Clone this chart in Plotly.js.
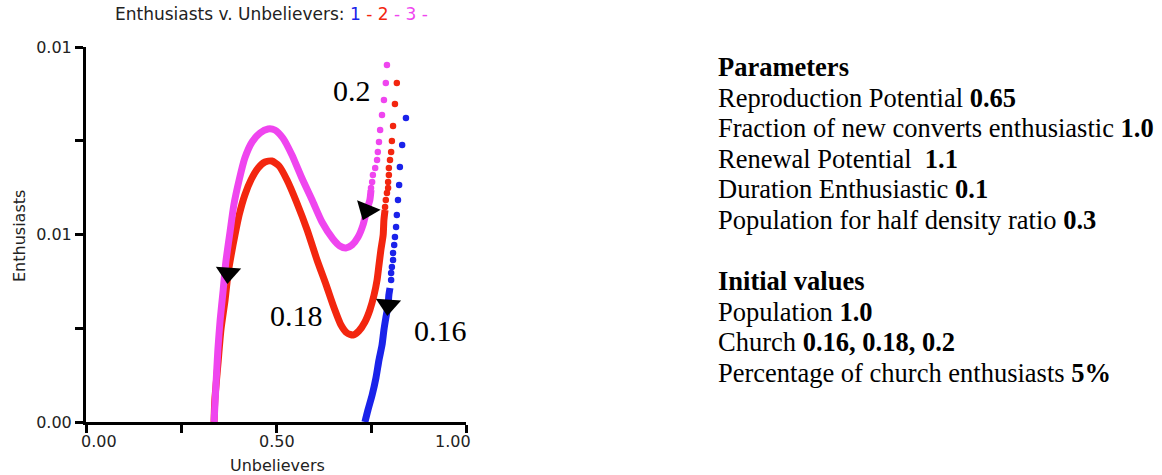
<!DOCTYPE html>
<html>
<head>
<meta charset="utf-8">
<script src="https://cdn.plot.ly/plotly-3.0.1.min.js"></script>
<style>
  html, body { margin: 0; padding: 0; background: #fff; }
  #chart { width: 1162px; height: 475px; }
</style>
</head>
<body>
<div id="chart"></div>
<script>
// ---------- data ----------
// Church 0.2 (series 3, magenta): sparse start dots, then dense trajectory
const magentaDotsX = [0.792, 0.789, 0.784, 0.779, 0.774, 0.771, 0.768, 0.766, 0.761, 0.755, 0.753, 0.750];
const magentaDotsY = [0.01428, 0.01356, 0.01288, 0.01228, 0.01168, 0.0112, 0.0108, 0.01048, 0.01016, 0.00988, 0.0096, 0.00936];
const magentaPathX = [0.750, 0.747, 0.739, 0.729, 0.716, 0.700, 0.684, 0.668, 0.650, 0.621, 0.595, 0.568, 0.542, 0.518, 0.497, 0.479, 0.458, 0.437, 0.418, 0.403, 0.389, 0.379, 0.368, 0.361, 0.353, 0.347, 0.342, 0.337];
const magentaPathY = [0.00928, 0.00888, 0.00848, 0.00788, 0.0074, 0.00708, 0.00696, 0.00704, 0.00732, 0.008, 0.00888, 0.00976, 0.01068, 0.01136, 0.01168, 0.01172, 0.01156, 0.0112, 0.01056, 0.00968, 0.00868, 0.0076, 0.0064, 0.00528, 0.00408, 0.00288, 0.00148, 0];

// Church 0.18 (series 2, red)
const redDotsX = [0.818, 0.813, 0.808, 0.805, 0.803, 0.800, 0.797, 0.797, 0.795, 0.795, 0.792, 0.789, 0.787];
const redDotsY = [0.01356, 0.01272, 0.01184, 0.01124, 0.0108, 0.01048, 0.01016, 0.00988, 0.0096, 0.00936, 0.00916, 0.00888, 0.0086];
const redPathX = [0.787, 0.784, 0.782, 0.776, 0.771, 0.766, 0.758, 0.747, 0.734, 0.718, 0.703, 0.687, 0.671, 0.653, 0.632, 0.608, 0.582, 0.555, 0.529, 0.508, 0.489, 0.471, 0.453, 0.434, 0.418, 0.403, 0.392, 0.382, 0.374, 0.366, 0.355, 0.347, 0.339, 0.337];
const redPathY = [0.00848, 0.00808, 0.00748, 0.00688, 0.00628, 0.00568, 0.00508, 0.00448, 0.004, 0.00364, 0.00348, 0.00356, 0.00388, 0.00456, 0.00548, 0.00648, 0.00768, 0.00876, 0.00968, 0.01024, 0.01044, 0.0104, 0.01016, 0.00968, 0.00908, 0.00828, 0.00748, 0.00668, 0.00596, 0.00488, 0.00368, 0.00228, 0.00088, 0];

// Church 0.16 (series 1, blue)
const blueDotsX = [0.842, 0.832, 0.826, 0.824, 0.821, 0.818, 0.816, 0.813, 0.811, 0.808, 0.808, 0.805, 0.803, 0.803];
const blueDotsY = [0.01216, 0.01108, 0.0102, 0.00948, 0.00888, 0.00828, 0.0078, 0.0074, 0.00708, 0.00676, 0.00648, 0.0062, 0.00596, 0.00568];
const bluePathX = [0.800, 0.797, 0.795, 0.789, 0.784, 0.779, 0.771, 0.763, 0.753, 0.742, 0.734];
const bluePathY = [0.00536, 0.00508, 0.00468, 0.00416, 0.00368, 0.00308, 0.00248, 0.00176, 0.00108, 0.00048, 0];

// ticks
const xTickVals = [0, 0.25, 0.5, 0.75, 1.0];
const xTickText = ['0.00', '', '0.50', '', '1.00'];
const yTickVals = [0, 0.00375, 0.0075, 0.01125, 0.015];
const yTickText = ['0.00', '', '0.01', '', '0.01'];

// text panel
const paramLines = [
  '<b>Parameters</b>',
  'Reproduction Potential <b>0.65</b>',
  'Fraction of new converts enthusiastic <b>1.0</b>',
  'Renewal Potential&nbsp; <b>1.1</b>',
  'Duration Enthusiastic <b>0.1</b>',
  'Population for half density ratio <b>0.3</b>',
  '',
  '<b>Initial values</b>',
  'Population <b>1.0</b>',
  'Church <b>0.16, 0.18, 0.2</b>',
  'Percentage of church enthusiasts <b>5%</b>'
];
const seriesLabels = ['0.16', '0.18', '0.2'];

// ---------- styling ----------
const BLUE = '#1a22ea', RED = '#f3260f', MAG = '#ef45ef';
const AX_FONT = 'DejaVu Sans, Verdana, sans-serif';
const SERIF = 'Liberation Serif, Times New Roman, serif';
const AX_SIZE = 16;

// plot-area pixel geometry
const L = 86, T = 47, W = 380, H = 375;
const px2paperX = px => (px - L) / W;
const py2paperY = py => (T + H - py) / H;

function pathTrace(x, y, color) {
  return { x, y, type: 'scatter', mode: 'lines', cliponaxis: false,
    line: { color, width: 7, shape: 'spline', smoothing: 0.6 }, hoverinfo: 'skip' };
}
function dotTrace(x, y, color) {
  return { x, y, type: 'scatter', mode: 'markers', cliponaxis: false,
    marker: { color, size: 6.5, line: { width: 0 } }, hoverinfo: 'skip' };
}

// direction arrows sit on the trajectories
const arrowX = [magentaPathX[2], redPathX[28], bluePathX[2]];
const arrowY = [magentaPathY[2], redPathY[28], bluePathY[2]];

const traces = [
  pathTrace(bluePathX, bluePathY, BLUE),
  dotTrace(blueDotsX, blueDotsY, BLUE),
  pathTrace(redPathX, redPathY, RED),
  dotTrace(redDotsX, redDotsY, RED),
  pathTrace(magentaPathX, magentaPathY, MAG),
  dotTrace(magentaDotsX, magentaDotsY, MAG),
  { x: arrowX, y: arrowY, type: 'scatter', mode: 'markers', cliponaxis: false,
    marker: { symbol: 'triangle-down', size: 22, color: '#000', angle: [22, 4, 4], line: { width: 0 } },
    hoverinfo: 'skip' }
];

const annotations = [];

// title
annotations.push({
  xref: 'paper', yref: 'paper', x: px2paperX(271), y: py2paperY(14),
  xanchor: 'center', yanchor: 'middle', showarrow: false,
  font: { family: AX_FONT, size: 17, color: '#222' },
  text: 'Enthusiasts v. Unbelievers: <span style="color:' + BLUE + '">1</span>' +
        '<span style="color:' + RED + '"> - 2</span>' +
        '<span style="color:' + MAG + '"> - 3 -</span>'
});

// x tick labels
const xShift = [13, 0, 1, 0, -13];
xTickVals.forEach((v, i) => {
  if (!xTickText[i]) return;
  annotations.push({ xref: 'x', yref: 'paper', x: v, y: py2paperY(442), xshift: xShift[i],
    xanchor: 'center', yanchor: 'middle', showarrow: false,
    text: xTickText[i], font: { family: AX_FONT, size: AX_SIZE, color: '#222' } });
});

// axis titles
annotations.push({ xref: 'paper', yref: 'paper', x: px2paperX(277), y: py2paperY(465),
  xanchor: 'center', yanchor: 'middle', showarrow: false, text: 'Unbelievers',
  font: { family: AX_FONT, size: AX_SIZE, color: '#222' } });
annotations.push({ xref: 'paper', yref: 'paper', x: px2paperX(19), y: py2paperY(236),
  xanchor: 'center', yanchor: 'middle', showarrow: false, text: 'Enthusiasts', textangle: -90,
  font: { family: AX_FONT, size: AX_SIZE, color: '#222' } });

// series labels
const labelPos = [[440, 330], [296, 315], [352, 90]];
seriesLabels.forEach((t, i) => {
  annotations.push({ xref: 'paper', yref: 'paper', x: px2paperX(labelPos[i][0]), y: py2paperY(labelPos[i][1]),
    xanchor: 'center', yanchor: 'middle', showarrow: false, text: t,
    font: { family: SERIF, size: 30, color: '#000' } });
});

// right-hand text panel
paramLines.forEach((t, i) => {
  if (!t) return;
  annotations.push({ xref: 'paper', yref: 'paper', x: px2paperX(716), y: py2paperY(67 + i * 30.6),
    xanchor: 'left', yanchor: 'middle', showarrow: false, text: t, align: 'left',
    font: { family: SERIF, size: 26.5, color: '#000' } });
});

const layout = {
  width: 1162, height: 475,
  margin: { l: L, r: 1162 - L - W, t: T, b: 475 - T - H, pad: 0 },
  paper_bgcolor: '#fff', plot_bgcolor: '#fff',
  showlegend: false,
  xaxis: {
    range: [0, 1], fixedrange: true, showgrid: false, zeroline: false,
    showline: true, linecolor: '#000', linewidth: 3,
    tickmode: 'array', tickvals: xTickVals, ticktext: xTickText, showticklabels: false,
    ticks: 'outside', ticklen: 8, tickwidth: 3, tickcolor: '#000'
  },
  yaxis: {
    range: [0, 0.015], fixedrange: true, showgrid: false, zeroline: false,
    showline: true, linecolor: '#000', linewidth: 3,
    tickmode: 'array', tickvals: yTickVals, ticktext: yTickText,
    ticks: 'outside', ticklen: 8, tickwidth: 3, tickcolor: '#000',
    tickfont: { family: AX_FONT, size: AX_SIZE, color: '#222' }
  },
  annotations
};

Plotly.newPlot('chart', traces, layout, { displayModeBar: false, staticPlot: true });
</script>
</body>
</html>
